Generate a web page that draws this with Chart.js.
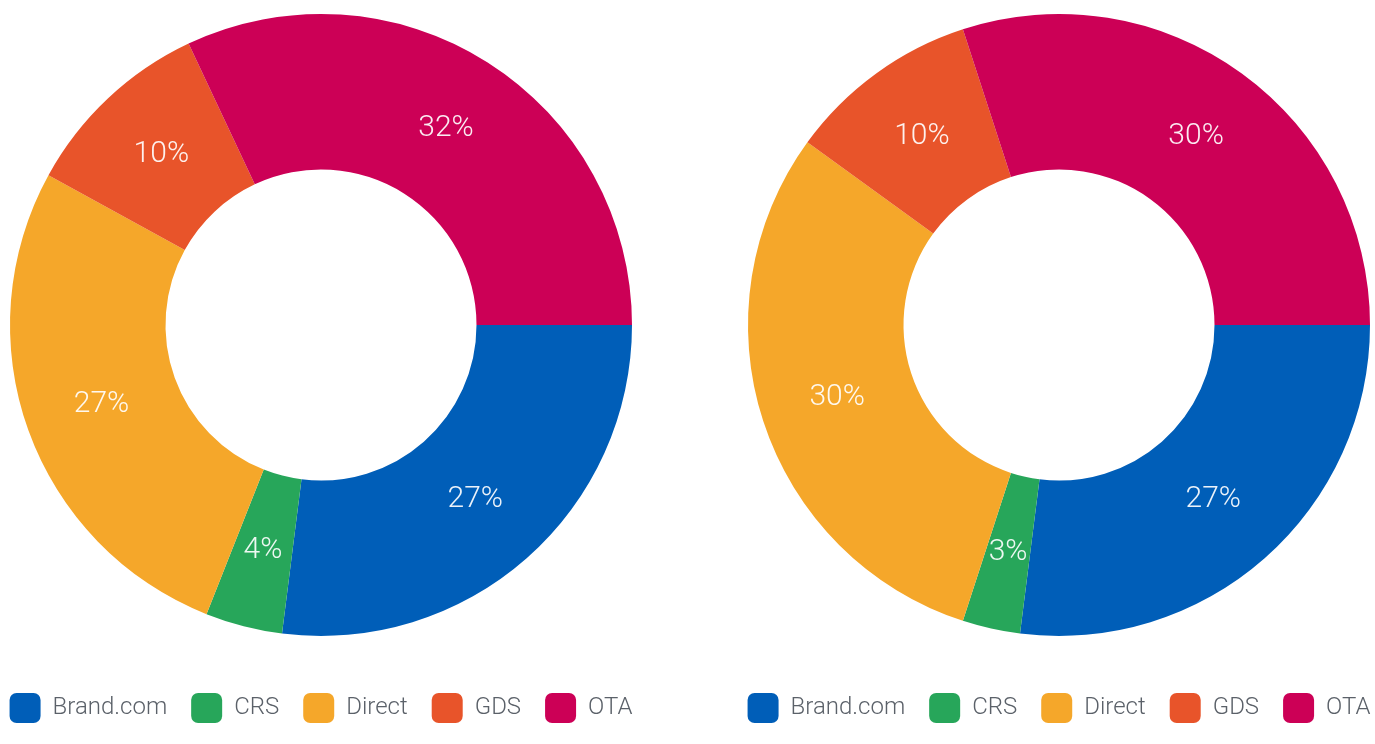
<!DOCTYPE html>
<html>
<head>
<meta charset="utf-8">
<script src="https://cdn.jsdelivr.net/npm/chart.js@4/dist/chart.umd.min.js"></script>
<style>
  html, body { margin: 0; padding: 0; background: #fff; overflow: hidden; width: 1375px; height: 744px; }
  .pie { position: absolute; top: 0; width: 700px; height: 744px; }
  #left { left: -29px; }
  #right { left: 709px; }
</style>
</head>
<body>
<div class="pie" id="left"><canvas id="chartLeft" width="700" height="744"></canvas></div>
<div class="pie" id="right"><canvas id="chartRight" width="700" height="744"></canvas></div>
<script>
const channels = ["Brand.com", "CRS", "Direct", "GDS", "OTA"];
const leftShares = [27, 4, 27, 10, 32];
const rightShares = [27, 3, 30, 10, 30];
const channelColors = ["#005eb8", "#27a65a", "#f5a72a", "#e8542a", "#cc0056"];

const FONT = "Roboto, 'Noto Sans', sans-serif";

// draws "27%" style labels in the middle of every slice
const sliceLabels = {
  id: "sliceLabels",
  afterDatasetsDraw(chart) {
    const ctx = chart.ctx;
    const meta = chart.getDatasetMeta(0);
    const values = chart.data.datasets[0].data;
    ctx.save();
    ctx.font = "300 30px " + FONT;
    ctx.fillStyle = "rgba(255,255,255,0.92)";
    ctx.textAlign = "center";
    ctx.textBaseline = "middle";
    meta.data.forEach((arc, i) => {
      const pos = arc.tooltipPosition();
      ctx.fillText(values[i] + "%", pos.x, pos.y);
    });
    ctx.restore();
  }
};

function makeDoughnut(id, shares) {
  return new Chart(document.getElementById(id), {
    type: "doughnut",
    data: {
      labels: channels,
      datasets: [{
        data: shares,
        backgroundColor: channelColors,
        borderWidth: 0,
        radius: 311,
        cutout: "50%"
      }]
    },
    options: {
      responsive: false,
      animation: false,
      rotation: 90,
      layout: { padding: { top: 4, bottom: 11, left: 0, right: 0 } },
      plugins: {
        tooltip: { enabled: false },
        title: { display: false },
        legend: {
          position: "bottom",
          title: { display: true, text: " ", font: { size: 10 }, padding: { top: 0, bottom: 11 } },
          labels: {
            boxWidth: 31,
            boxHeight: 30,
            padding: 24,
            color: "#5b6169",
            font: { family: FONT, size: 24, weight: "300" },
            generateLabels(chart) {
              return chart.data.labels.map((label, i) => ({
                text: label,
                fillStyle: channelColors[i],
                strokeStyle: channelColors[i],
                lineWidth: 0,
                borderRadius: 7,
                fontColor: "#5b6169",
                index: i
              }));
            }
          }
        }
      }
    },
    plugins: [sliceLabels]
  });
}

makeDoughnut("chartLeft", leftShares);
makeDoughnut("chartRight", rightShares);
</script>
</body>
</html>
